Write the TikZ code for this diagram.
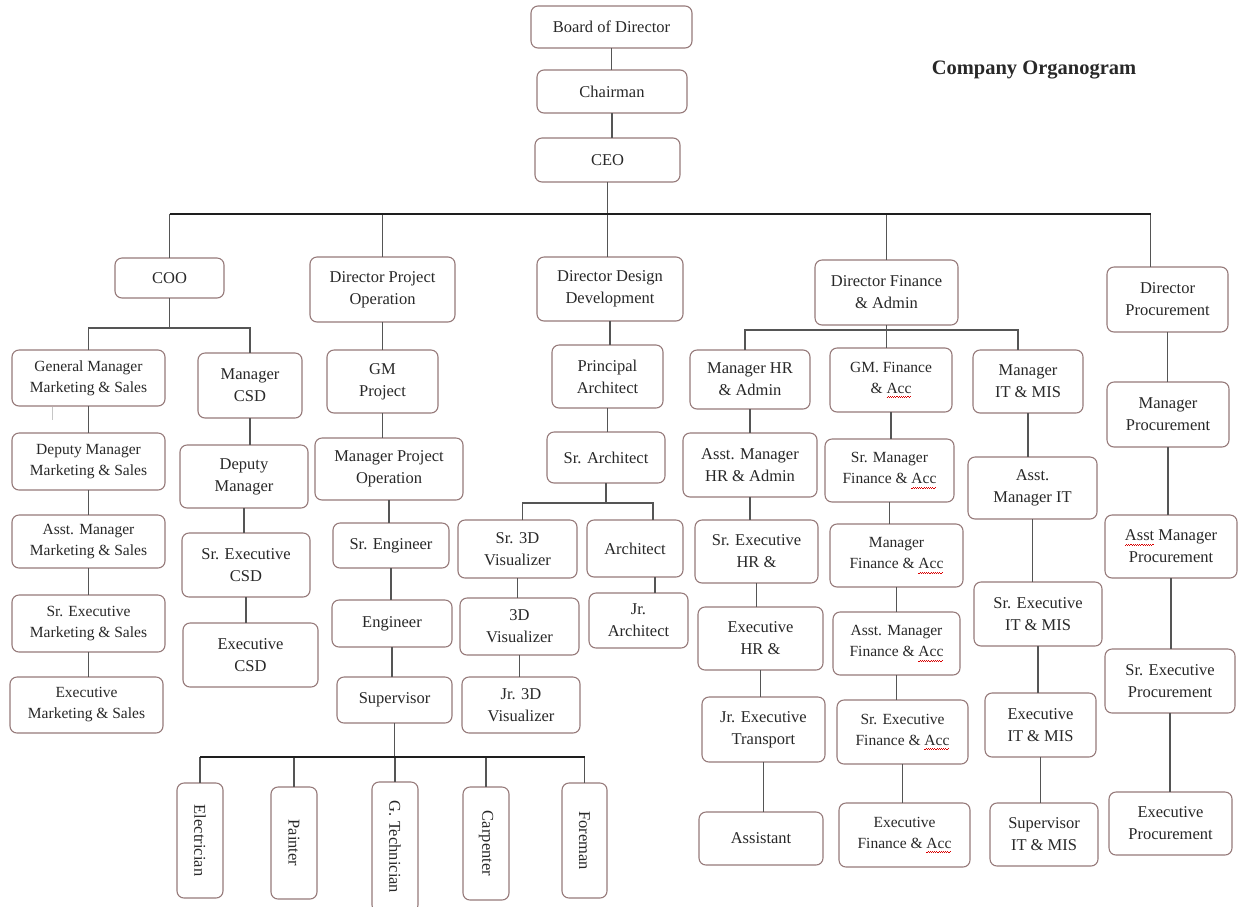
\documentclass[tikz,border=0pt]{standalone}
\usepackage{fontspec}
\setmainfont{Liberation Serif}
\usepackage{graphicx}
\definecolor{boxc}{RGB}{150,122,122}
\definecolor{linec}{RGB}{85,85,85}
\definecolor{busc}{RGB}{30,30,30}
\definecolor{txt}{RGB}{40,40,40}
\newsavebox\rwbox
\newcommand\redw[1]{\sbox\rwbox{#1}\rlap{\textcolor{red!85!black}{\leaders\hbox{\rule[-4.4pt]{1.1pt}{0.6pt}\rule[-3.6pt]{1.1pt}{0.6pt}}\hskip\wd\rwbox}}\usebox\rwbox}
\newcommand\bx[7][]{\node[box,#1,minimum width={#5pt-#3pt},minimum height={#6pt-#4pt}] (#2) at ({(#3+#5)/2},{(#4+#6)/2}) {#7};}
\newcommand\vl[2]{\draw[conn] (#1.south) -- (#1.south |- #2.north);}
\tikzset{
  box/.style={draw=boxc, line width=1.1pt, rounded corners=7pt, fill=white, inner sep=1pt, outer sep=0pt,
    align=center, text=txt, font=\fontsize{16.5}{22}\selectfont},
  smallbox/.style={font=\fontsize{15.5}{21}\selectfont},
  conn/.style={draw=linec, line width=1.3pt},
  bus/.style={draw=busc, line width=2.6pt},
}
\begin{document}
\begin{tikzpicture}[x=1pt,y=-1pt]
\useasboundingbox[fill=white] (0,0) rectangle (1238,906);

% title
\node[font=\bfseries\fontsize{20.5}{24}\selectfont, text=txt] (title) at (1034,70) {Company Organogram};

% top
\bx{bod}{531}{6}{692}{48}{Board of Director}
\bx{chair}{537}{70}{687}{113}{Chairman}
\bx{ceo}{535}{138}{680}{182}{CEO}
\bx{coo}{115}{258}{224}{298}{COO}
\bx{dpo}{310}{257}{455}{322}{Director Project\\Operation}
\bx{ddd}{537}{257}{683}{321}{Director Design\\Development}
\bx{dfa}{815}{260}{958}{325}{Director Finance\\\& Admin}
\bx{dpr}{1107}{267}{1228}{332}{Director\\Procurement}

% marketing
\bx[smallbox]{gmms}{12}{350}{165}{406}{General Manager\\Marketing \& Sales}
\bx[smallbox]{dmms}{12}{433}{165}{490}{Deputy Manager\\Marketing \& Sales}
\bx[smallbox]{amms}{12}{515}{165}{568}{Asst. Manager\\Marketing \& Sales}
\bx[smallbox]{sems}{12}{595}{165}{652}{Sr. Executive\\Marketing \& Sales}
\bx[smallbox]{exms}{10}{677}{163}{733}{Executive\\Marketing \& Sales}

% CSD
\bx{mcsd}{198}{353}{302}{418}{Manager\\CSD}
\bx{dm}{180}{445}{308}{508}{Deputy\\Manager}
\bx{secsd}{182}{533}{310}{597}{Sr. Executive\\CSD}
\bx{excsd}{183}{623}{318}{687}{Executive\\CSD}

% project
\bx{gmp}{327}{350}{438}{413}{GM\\Project}
\bx{mpo}{315}{438}{463}{500}{Manager Project\\Operation}
\bx{seng}{333}{523}{449}{568}{Sr. Engineer}
\bx{eng}{332}{600}{452}{647}{Engineer}
\bx{sup}{337}{677}{452}{723}{Supervisor}
\bx{elec}{177}{783}{223}{898}{\rotatebox{-90}{Electrician}}
\bx{paint}{271}{787}{317}{899}{\rotatebox{-90}{Painter}}
\bx{gtech}{372}{782}{418}{912}{\rotatebox{-90}{G. Technician}}
\bx{carp}{463}{787}{509}{900}{\rotatebox{-90}{Carpenter}}
\bx{fore}{562}{783}{607}{898}{\rotatebox{-90}{Foreman}}

% design
\bx{parch}{552}{345}{663}{408}{Principal\\Architect}
\bx{sarch}{547}{432}{665}{483}{Sr. Architect}
\bx{s3d}{458}{520}{577}{578}{Sr. 3D\\Visualizer}
\bx{arch}{587}{520}{683}{577}{Architect}
\bx{v3d}{460}{598}{579}{655}{3D\\Visualizer}
\bx{j3d}{462}{677}{580}{733}{Jr. 3D\\Visualizer}
\bx{jarch}{589}{593}{688}{648}{Jr.\\Architect}

% HR
\bx{mhr}{690}{350}{810}{409}{Manager HR\\\& Admin}
\bx{amhr}{683}{433}{817}{497}{Asst. Manager\\HR \& Admin}
\bx{sehr}{695}{520}{818}{583}{Sr. Executive\\HR \&}
\bx{exhr}{698}{607}{823}{670}{Executive\\HR \&}
\bx{jet}{702}{697}{825}{762}{Jr. Executive\\Transport}
\bx{asst}{699}{812}{823}{865}{Assistant}

% Finance
\bx[smallbox]{gmf}{830}{348}{952}{412}{GM. Finance\\\& \redw{Acc}}
\bx[smallbox]{smf}{825}{439}{954}{502}{Sr. Manager\\Finance \& \redw{Acc}}
\bx[smallbox]{mf}{830}{524}{963}{587}{Manager\\Finance \& \redw{Acc}}
\bx[smallbox]{amf}{833}{612}{960}{675}{Asst. Manager\\Finance \& \redw{Acc}}
\bx[smallbox]{sef}{837}{700}{968}{764}{Sr. Executive\\Finance \& \redw{Acc}}
\bx[smallbox]{exf}{839}{803}{970}{867}{Executive\\Finance \& \redw{Acc}}

% IT
\bx{mit}{973}{350}{1083}{413}{Manager\\IT \& MIS}
\bx{amit}{968}{457}{1097}{519}{Asst.\\Manager IT}
\bx{seit}{974}{582}{1102}{646}{Sr. Executive\\IT \& MIS}
\bx{exit}{985}{693}{1096}{757}{Executive\\IT \& MIS}
\bx{supit}{990}{803}{1098}{866}{Supervisor\\IT \& MIS}

% Procurement
\bx{mpr}{1107}{382}{1229}{447}{Manager\\Procurement}
\bx{ampr}{1105}{515}{1237}{578}{\redw{Asst} Manager\\Procurement}
\bx{sepr}{1105}{649}{1235}{713}{Sr. Executive\\Procurement}
\bx{expr}{1109}{792}{1232}{855}{Executive\\Procurement}

% helper coordinates
\coordinate (busA) at (0,214);
\coordinate (cooB) at (0,328);
\coordinate (finB) at (0,330);
\coordinate (desB) at (0,503);
\coordinate (supB) at (0,757);
\coordinate (dprtop) at ([xshift=-17pt]dpr.north);
\coordinate (mhrtop) at ([xshift=-5pt]mhr.north);
\coordinate (mittop) at ([xshift=-10pt]mit.north);
\coordinate (s3dtop) at ([xshift=5pt]s3d.north);
\coordinate (archtop) at ([xshift=18pt]arch.north);
\coordinate (archbot) at ([xshift=20pt]arch.south);

% top chain
\vl{bod}{chair}
\vl{chair}{ceo}
\vl{ceo}{ddd}
\draw[conn] (coo.north |- busA) -- (coo.north);
\draw[conn] (dpo.north |- busA) -- (dpo.north);
\draw[conn] (dfa.north |- busA) -- (dfa.north);
\draw[conn] (dprtop |- busA) -- (dprtop);
\draw[bus] (coo.north |- busA) -- (dprtop |- busA);

% COO
\draw[conn] (coo.south) -- (coo.south |- cooB);
\draw[conn] (gmms.north) -- (gmms.north |- cooB) -- (mcsd.north |- cooB) -- (mcsd.north);
\vl{gmms}{dmms}
\vl{dmms}{amms}
\vl{amms}{sems}
\vl{sems}{exms}
\draw[line width=0.8pt, gray!45] (52,407) -- (52,420);
\vl{mcsd}{dm}
\vl{dm}{secsd}
\vl{secsd}{excsd}

% project
\vl{dpo}{gmp}
\vl{gmp}{mpo}
\vl{mpo}{seng}
\vl{seng}{eng}
\vl{eng}{sup}
\draw[conn] (sup.south) -- (sup.south |- supB);
\foreach \n in {elec,paint,gtech,carp,fore}{\draw[conn] (\n.north |- supB) -- (\n.north);}
\draw[bus] (elec.north |- supB) -- (fore.north |- supB);

% design
\vl{ddd}{parch}
\vl{parch}{sarch}
\draw[conn] (sarch.south) -- (sarch.south |- desB);
\draw[conn] (s3dtop) -- (s3dtop |- desB) -- (archtop |- desB) -- (archtop);
\vl{s3d}{v3d}
\vl{v3d}{j3d}
\draw[conn] (archbot) -- (archbot |- jarch.north);

% finance
\vl{dfa}{gmf}
\draw[conn] (mhrtop) -- (mhrtop |- finB) -- (mittop |- finB) -- (mittop);
\vl{mhr}{amhr}
\vl{amhr}{sehr}
\vl{sehr}{exhr}
\vl{exhr}{jet}
\vl{jet}{asst}
\vl{gmf}{smf}
\vl{smf}{mf}
\vl{mf}{amf}
\vl{amf}{sef}
\vl{sef}{exf}
\vl{mit}{amit}
\vl{amit}{seit}
\vl{seit}{exit}
\vl{exit}{supit}

% procurement
\vl{dpr}{mpr}
\vl{mpr}{ampr}
\vl{ampr}{sepr}
\vl{sepr}{expr}
\end{tikzpicture}
\end{document}
